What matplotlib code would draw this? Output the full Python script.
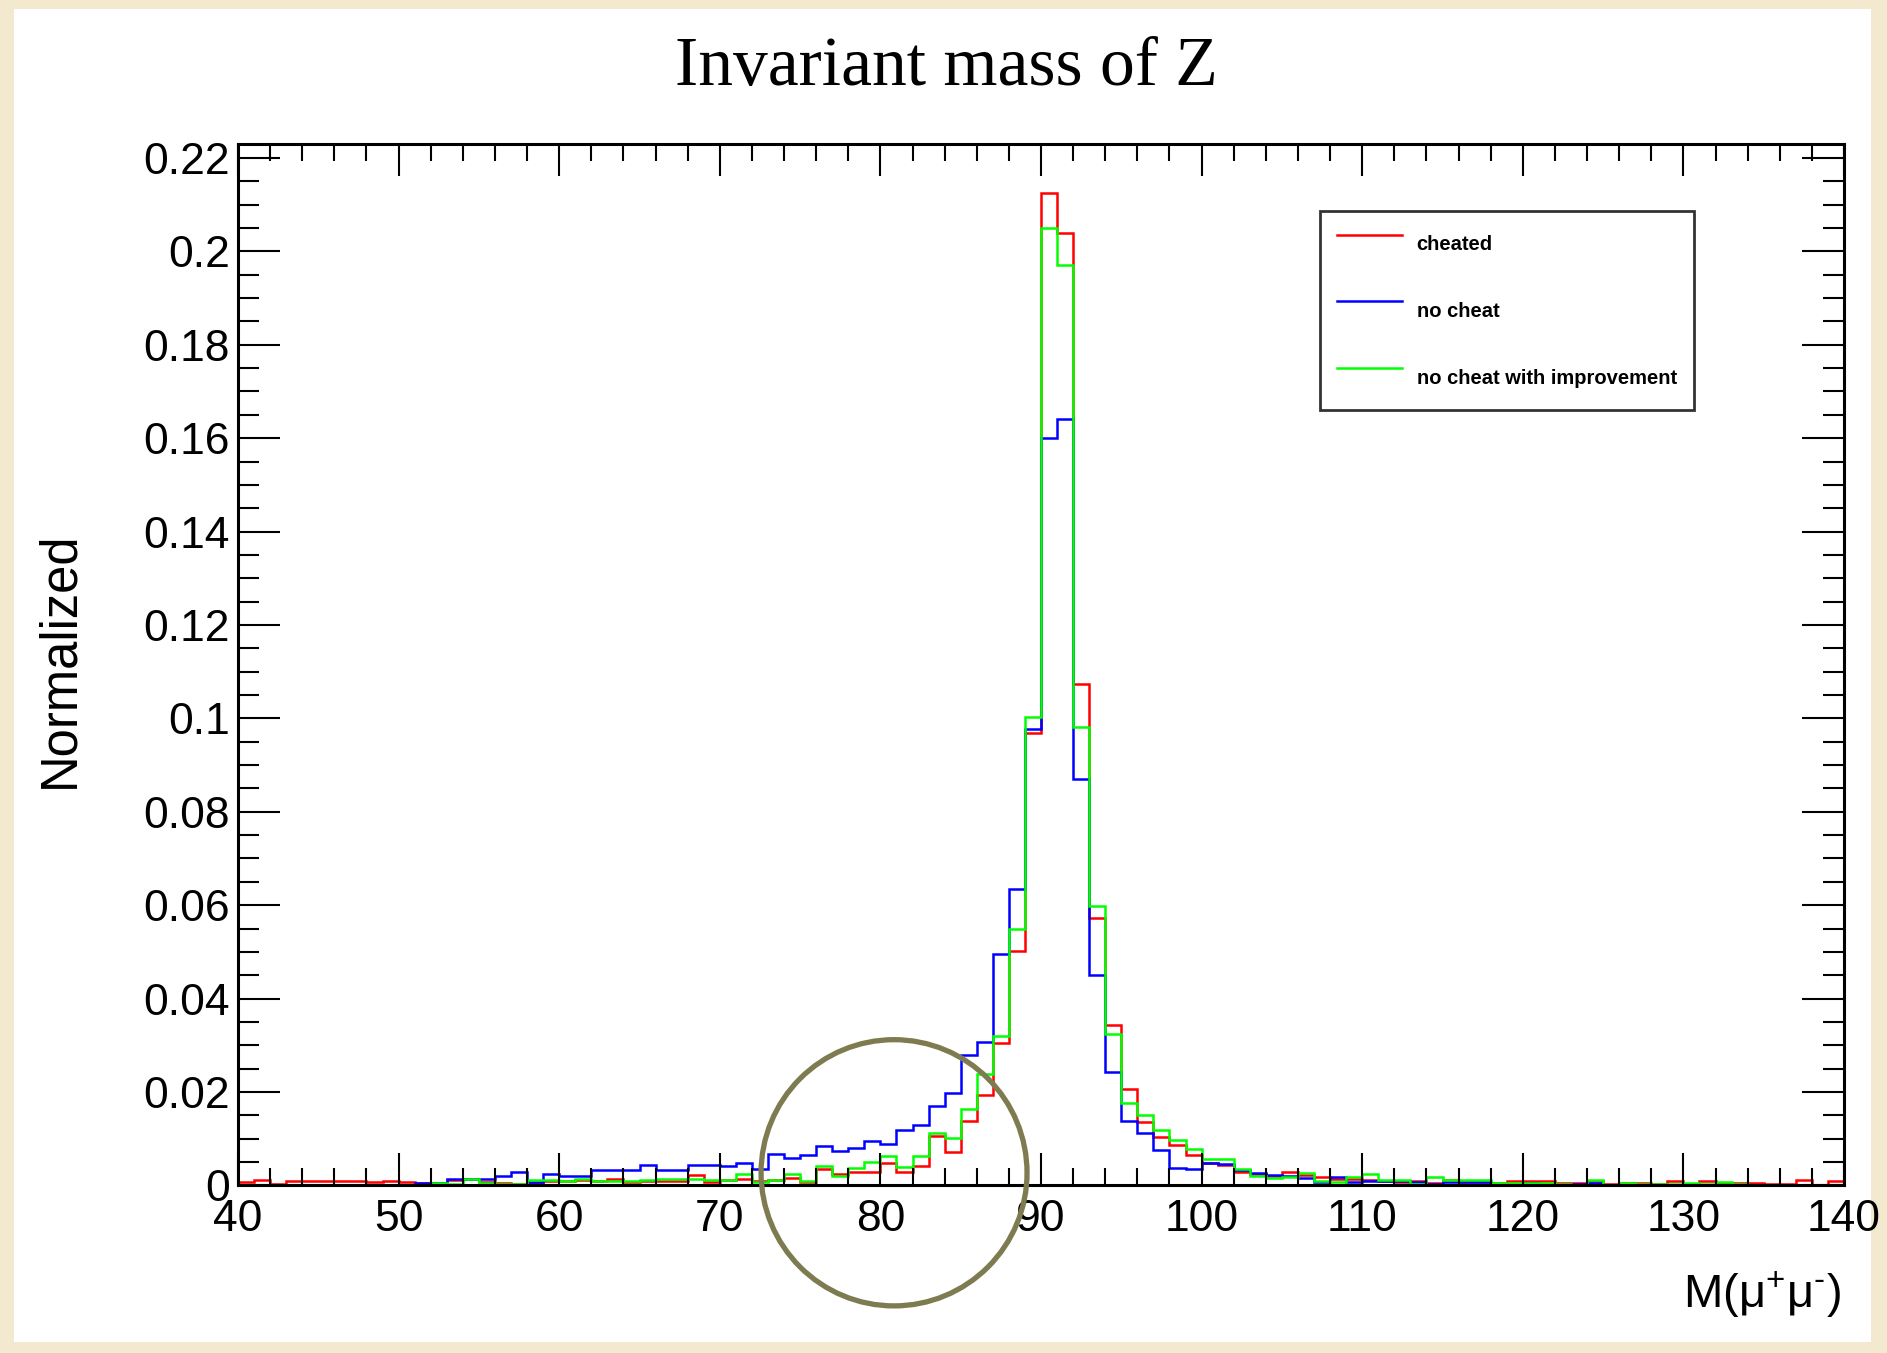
import numpy as np
import matplotlib
matplotlib.use("Agg")
import matplotlib.pyplot as plt
from matplotlib.patches import Rectangle, Ellipse
from matplotlib.ticker import MultipleLocator, FuncFormatter

# bin edges: 100 bins of 1 GeV from 40 to 140
edges = np.arange(40, 141, 1)

cheated = [
    0.0008, 0.0012, 0.0004, 0.0009, 0.0009, 0.0009, 0.0009, 0.0010, 0.0007, 0.0010,
    0.0008, 0.0006, 0.0006, 0.0011, 0.0013, 0.0007, 0.0005, 0.0003, 0.0005, 0.0009,
    0.0009, 0.0011, 0.0009, 0.0013, 0.0008, 0.0009, 0.0009, 0.0010, 0.0023, 0.0008,
    0.0011, 0.0014, 0.0009, 0.0011, 0.0016, 0.0007, 0.0036, 0.0024, 0.0029, 0.0029,
    0.0049, 0.0029, 0.0041, 0.0105, 0.0071, 0.0138, 0.0194, 0.0305, 0.0502, 0.0969,
    0.2126, 0.2040, 0.1074, 0.0573, 0.0343, 0.0206, 0.0136, 0.0104, 0.0086, 0.0065,
    0.0047, 0.0044, 0.0029, 0.0025, 0.0021, 0.0029, 0.0023, 0.0018, 0.0014, 0.0014,
    0.0012, 0.0009, 0.0007, 0.0009, 0.0005, 0.0011, 0.0007, 0.0007, 0.0005, 0.0009,
    0.0009, 0.0010, 0.0006, 0.0006, 0.0009, 0.0004, 0.0006, 0.0005, 0.0002, 0.0010,
    0.0004, 0.0009, 0.0005, 0.0006, 0.0006, 0.0002, 0.0002, 0.0011, 0.0000, 0.0009,
]

no_cheat = [
    0.0, 0.0, 0.0, 0.0, 0.0, 0.0, 0.0, 0.0, 0.0, 0.0,
    0.0000, 0.0006, 0.0006, 0.0014, 0.0014, 0.0014, 0.0021, 0.0028, 0.0008, 0.0024,
    0.0021, 0.0021, 0.0032, 0.0032, 0.0032, 0.0044, 0.0034, 0.0032, 0.0044, 0.0044,
    0.0042, 0.0047, 0.0035, 0.0067, 0.0059, 0.0066, 0.0084, 0.0073, 0.0081, 0.0095,
    0.0088, 0.0118, 0.0130, 0.0171, 0.0197, 0.0279, 0.0306, 0.0495, 0.0635, 0.0977,
    0.1600, 0.1640, 0.0870, 0.0451, 0.0243, 0.0138, 0.0112, 0.0076, 0.0038, 0.0035,
    0.0048, 0.0045, 0.0032, 0.0026, 0.0023, 0.0021, 0.0016, 0.0007, 0.0018, 0.0007,
    0.0009, 0.0010, 0.0009, 0.0007, 0.0003, 0.0007, 0.0007, 0.0007, 0.0003, 0.0003,
    0.0005, 0.0003, 0.0001, 0.0002, 0.0005, 0.0000, 0.0001, 0.0000, 0.0000, 0.0001,
    0.0001, 0.0000, 0.0001, 0.0, 0.0, 0.0, 0.0, 0.0, 0.0, 0.0,
]

improved = [
    0.0, 0.0, 0.0, 0.0, 0.0, 0.0, 0.0, 0.0, 0.0, 0.0,
    0.0000, 0.0000, 0.0006, 0.0002, 0.0013, 0.0006, 0.0002, 0.0002, 0.0011, 0.0011,
    0.0009, 0.0013, 0.0009, 0.0009, 0.0009, 0.0011, 0.0013, 0.0013, 0.0014, 0.0011,
    0.0011, 0.0025, 0.0007, 0.0011, 0.0025, 0.0009, 0.0041, 0.0020, 0.0037, 0.0051,
    0.0063, 0.0039, 0.0064, 0.0113, 0.0102, 0.0164, 0.0239, 0.0320, 0.0549, 0.1003,
    0.2050, 0.1970, 0.0982, 0.0599, 0.0325, 0.0176, 0.0150, 0.0118, 0.0097, 0.0078,
    0.0056, 0.0056, 0.0036, 0.0021, 0.0016, 0.0019, 0.0026, 0.0009, 0.0007, 0.0019,
    0.0024, 0.0012, 0.0012, 0.0002, 0.0019, 0.0012, 0.0011, 0.0011, 0.0005, 0.0005,
    0.0006, 0.0005, 0.0002, 0.0000, 0.0012, 0.0000, 0.0006, 0.0002, 0.0002, 0.0004,
    0.0005, 0.0002, 0.0007, 0.0002, 0.0, 0.0, 0.0, 0.0, 0.0, 0.0,
]

labels = ["cheated", "no cheat", "no cheat with improvement"]
colors = ["#ff0000", "#0000ff", "#00ff00"]

plt.rcParams["font.family"] = ["Liberation Sans", "DejaVu Sans"]
plt.rcParams["mathtext.fontset"] = "custom"
plt.rcParams["mathtext.rm"] = "Liberation Sans"

W, H = 1887, 1353
fig = plt.figure(figsize=(W / 100, H / 100), dpi=100)
fig.patch.set_facecolor("#f3e9cf")
fig.add_artist(Rectangle((14 / W, 1 - 1342 / H), (1871 - 14) / W, (1342 - 9) / H,
                         transform=fig.transFigure, facecolor="white", edgecolor="none", zorder=0))

ax = fig.add_axes([238 / W, 1 - 1185.4 / H, (1844 - 238) / W, (1185.4 - 144.4) / H])
ax.set_facecolor("white")

for vals, lab, col in zip([cheated, no_cheat, improved], labels, colors):
    ax.stairs(vals, edges, color=col, linewidth=1.8, label=lab)

ax.set_xlim(40, 140)
ax.set_ylim(0, 0.2229)

ax.xaxis.set_major_locator(MultipleLocator(10))
ax.xaxis.set_minor_locator(MultipleLocator(2))
ax.yaxis.set_major_locator(MultipleLocator(0.02))
ax.yaxis.set_minor_locator(MultipleLocator(0.005))
ax.yaxis.set_major_formatter(FuncFormatter(lambda v, p: f"{v:g}"))

ax.tick_params(axis="both", which="both", direction="in", top=True, right=True,
               width=1.5, labelsize=32, colors="black")
ax.tick_params(axis="x", which="major", length=23, pad=10)
ax.tick_params(axis="x", which="minor", length=12)
ax.tick_params(axis="y", which="major", length=30, pad=6)
ax.tick_params(axis="y", which="minor", length=15)
for s in ax.spines.values():
    s.set_linewidth(2.2)

fig.text(946 / W, 1 - 68 / H, "Invariant mass of Z", family="Liberation Serif",
         fontsize=50, ha="center", va="center")
fig.text(60 / W, 1 - 660 / H, "Normalized", fontsize=36.5, rotation=90,
         ha="center", va="center")
fig.text(1841 / W, 1 - 1295 / H, r"M(μ$^{+}$μ$^{\text{-}}$)", fontsize=34,
         ha="right", va="center")

leg = ax.legend(loc="upper left", bbox_to_anchor=(0.6737, 0.936),
                prop={"weight": "bold", "size": 14.5}, frameon=True, fancybox=False,
                edgecolor="black", borderpad=0.85, labelspacing=1.77,
                handlelength=3.2, handleheight=2.0, handletextpad=0.75,
                borderaxespad=0)
leg.get_frame().set_linewidth(2)
for h in leg.legend_handles:
    h.set_linewidth(1.8)

# highlight circle around the low-mass tail
circ = Ellipse((80.85, 0.0027), width=16.56, height=0.057, fill=False,
               edgecolor="#7d7b4f", linewidth=3.8, clip_on=False, zorder=5)
ax.add_patch(circ)

fig.savefig("out.png", dpi=100)
